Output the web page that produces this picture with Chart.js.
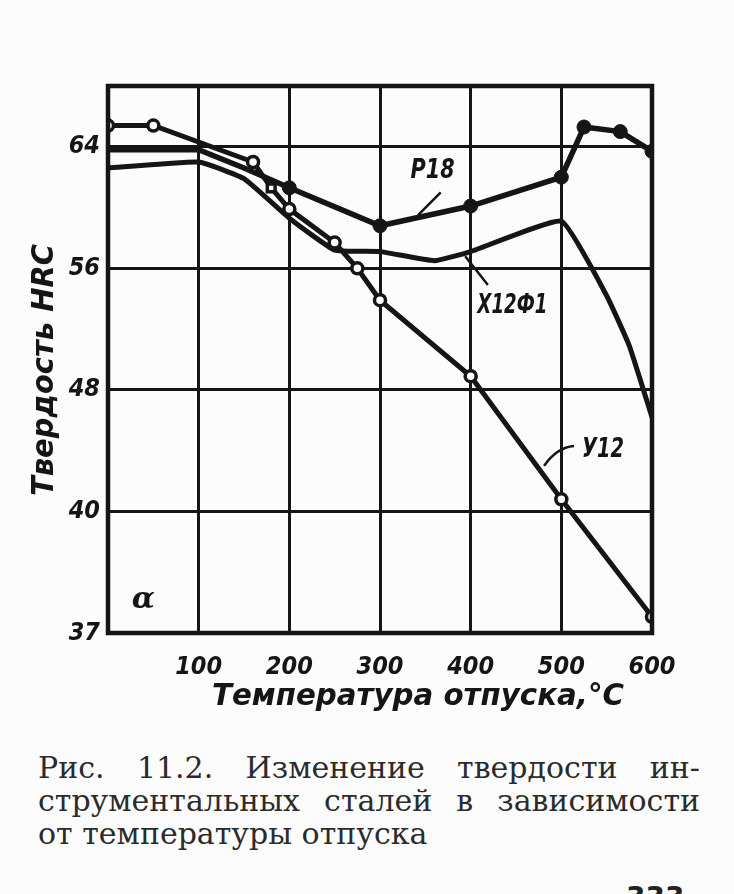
<!DOCTYPE html>
<html lang="ru">
<head>
<meta charset="utf-8">
<title>Твердость HRC</title>
<script src="https://cdn.jsdelivr.net/npm/chart.js@4.4.0/dist/chart.umd.min.js"></script>
<style>
    html, body {
        margin: 0;
        padding: 0;
        width: 734px;
        height: 894px;
        overflow: hidden;
        background: #fcfcfc;
    }
    #wrap {
        position: absolute;
        left: 0;
        top: 0;
        width: 734px;
        height: 720px;
    }
    .cap {
        position: absolute;
        left: 38px;
        top: 751px;
        width: 662px;
        font: 30px "DejaVu Serif", serif;
        line-height: 33px;
        color: #2b2b2b;
    }
    .cap .j {
        text-align: justify;
        text-align-last: justify;
    }
    .page {
        position: absolute;
        left: 626px;
        top: 881px;
        font: bold 28px "DejaVu Sans", sans-serif;
        color: #222;
    }
</style>
</head>
<body>
<div id="wrap"><canvas id="myChart"></canvas></div>
<div class="cap">
    <div class="j">Рис. 11.2. Изменение твердости ин-</div>
    <div class="j">струментальных сталей в зависимости</div>
    <div>от температуры отпуска</div>
</div>
<div class="page">333</div>

<script>
// Temperature axis (°C) and hardness axis (HRC)
const xTicks = [0, 100, 200, 300, 400, 500, 600];
const yTicks = [37, 40, 48, 56, 64];
const yBreaks = [37, 40, 48, 56, 64, 68];   // the hardness axis is not uniform

// Р18 (filled markers)
const p18Temp = [0, 100, 150, 200, 300, 400, 500, 525, 565, 600];
const p18Hrc  = [63.8, 63.8, 62.6, 61.3, 58.8, 60.1, 62.0, 65.3, 65.0, 63.7];

// Х12Ф1 (no markers)
const x12Temp = [0, 100, 150, 200, 250, 300, 360, 400, 500, 550, 575, 600];
const x12Hrc  = [62.6, 63.0, 61.9, 59.3, 57.2, 57.1, 56.5, 57.1, 59.1, 54.2, 50.9, 46.2];

// У12 (open markers)
const u12Temp = [0, 50, 160, 180, 200, 250, 275, 300, 400, 500, 600];
const u12Hrc  = [65.4, 65.4, 63.0, 61.3, 59.9, 57.7, 56.0, 53.9, 48.9, 40.8, 37.4];

const INK = '#151515';
const FONT = '"DejaVu Sans Condensed", "DejaVu Sans", sans-serif';

// Scale with rows of unequal value span (37..40 takes a full row, top is half a row)
class BrokenScale extends Chart.LinearScale {
    rowOf(value) {
        const rows = [0, 1, 2, 3, 4, 4.5];
        let i = 0;
        while (i < yBreaks.length - 2 && value > yBreaks[i + 1]) i++;
        return rows[i] + (rows[i + 1] - rows[i]) * (value - yBreaks[i]) / (yBreaks[i + 1] - yBreaks[i]);
    }
    getPixelForValue(value) {
        if (value === null || value === undefined) return NaN;
        return this.bottom - this.rowOf(value) / 4.5 * this.height;
    }
    getValueForPixel(pixel) {
        const rows = [0, 1, 2, 3, 4, 4.5];
        const r = (this.bottom - pixel) / this.height * 4.5;
        let i = 0;
        while (i < rows.length - 2 && r > rows[i + 1]) i++;
        return yBreaks[i] + (yBreaks[i + 1] - yBreaks[i]) * (r - rows[i]) / (rows[i + 1] - rows[i]);
    }
}
BrokenScale.id = 'broken';
BrokenScale.defaults = Chart.LinearScale.defaults;
Chart.register(BrokenScale);

const toPoints = (xs, ys) => xs.map((x, i) => ({ x: x, y: ys[i] }));

// Draw bold italic text squeezed/stretched to a given width
function fitText(ctx, text, cx, cy, width, size, rotation) {
    ctx.save();
    ctx.font = `italic bold ${size}px ${FONT}`;
    const w = ctx.measureText(text).width;
    ctx.translate(cx, cy);
    ctx.rotate(rotation || 0);
    ctx.scale(width / w, 1);
    ctx.textAlign = 'center';
    ctx.textBaseline = 'middle';
    ctx.fillStyle = INK;
    ctx.fillText(text, 0, 0);
    ctx.restore();
}

// Frame, curve labels with leaders, axis titles
const decor = {
    id: 'decor',
    afterDraw(chart) {
        const { ctx, chartArea: a, scales: { x, y } } = chart;
        const px = v => x.getPixelForValue(v);
        const py = v => y.getPixelForValue(v);

        ctx.save();
        ctx.strokeStyle = INK;
        ctx.lineWidth = 4.5;
        ctx.strokeRect(a.left, a.top, a.right - a.left, a.bottom - a.top);

        // leaders
        ctx.lineWidth = 2.5;
        ctx.beginPath();
        ctx.moveTo(px(367), py(61.0));
        ctx.lineTo(px(342), py(59.5));
        ctx.moveTo(px(419), py(54.9));
        ctx.lineTo(px(394), py(56.8));
        ctx.moveTo(px(514), py(44.3));
        ctx.quadraticCurveTo(px(495), py(44.2), px(481), py(43.0));
        ctx.stroke();
        ctx.restore();

        fitText(ctx, 'Р18', px(358), py(62.4), 44, 26);
        fitText(ctx, 'Х12Ф1', px(446), py(53.5), 70, 26);
        fitText(ctx, 'У12', px(546), py(44.0), 42, 26);

        ctx.save();
        ctx.font = 'italic bold 30px "DejaVu Serif", serif';
        ctx.fillStyle = INK;
        ctx.textAlign = 'center';
        ctx.textBaseline = 'middle';
        ctx.fillText('α', px(39), py(37.8));
        ctx.restore();

        fitText(ctx, 'Температура отпуска,°C', 418, a.bottom + 64, 412, 30);
        fitText(ctx, 'Твердость HRC', 45, 370, 252, 30, -Math.PI / 2);
    }
};

function createChart() {
    const ctx = document.getElementById('myChart').getContext('2d');

    new Chart(ctx, {
        type: 'line',
        data: {
            datasets: [
                {
                    label: 'У12',
                    data: toPoints(u12Temp, u12Hrc),
                    borderColor: INK,
                    borderWidth: 5,
                    tension: 0,
                    pointRadius: 5.5,
                    pointStyle: c => (c.raw && c.raw.x === 180) ? 'rect' : 'circle',
                    pointBackgroundColor: '#ffffff',
                    pointBorderColor: INK,
                    pointBorderWidth: 3.5
                },
                {
                    label: 'Р18',
                    data: toPoints(p18Temp, p18Hrc),
                    borderColor: INK,
                    borderWidth: 5.5,
                    tension: 0,
                    pointRadius: c => (c.raw && c.raw.x >= 200) ? 7 : 0,
                    pointBackgroundColor: INK,
                    pointBorderColor: INK,
                    pointBorderWidth: 1
                },
                {
                    label: 'Х12Ф1',
                    data: toPoints(x12Temp, x12Hrc),
                    borderColor: INK,
                    borderWidth: 5,
                    tension: 0.12,
                    pointRadius: 0
                }
            ]
        },
        options: {
            responsive: true,
            maintainAspectRatio: false,
            animation: false,
            events: [],
            layout: {
                padding: { left: 0, right: 82, top: 86, bottom: 0 }
            },
            plugins: {
                legend: { display: false },
                tooltip: { enabled: false },
                title: { display: false }
            },
            scales: {
                x: {
                    type: 'linear',
                    min: 0,
                    max: 600,
                    afterBuildTicks: s => { s.ticks = xTicks.map(v => ({ value: v })); },
                    afterFit: s => { s.height = 87; },
                    grid: {
                        color: INK,
                        lineWidth: 3,
                        drawTicks: false
                    },
                    border: { display: false },
                    ticks: {
                        padding: 19,
                        color: INK,
                        maxRotation: 0,
                        autoSkip: false,
                        font: { family: FONT, size: 25, weight: 'bold', style: 'italic' },
                        callback: v => v === 0 ? '' : String(v)
                    }
                },
                y: {
                    type: 'broken',
                    min: 37,
                    max: 68,
                    afterBuildTicks: s => { s.ticks = yTicks.map(v => ({ value: v })); },
                    afterFit: s => { s.width = 108; },
                    grid: {
                        color: INK,
                        lineWidth: 3,
                        drawTicks: false
                    },
                    border: { display: false },
                    ticks: {
                        padding: 8,
                        color: INK,
                        autoSkip: false,
                        font: { family: FONT, size: 25, weight: 'bold', style: 'italic' },
                        callback: v => String(v)
                    }
                }
            }
        },
        plugins: [decor]
    });
}

createChart();
</script>
</body>
</html>
